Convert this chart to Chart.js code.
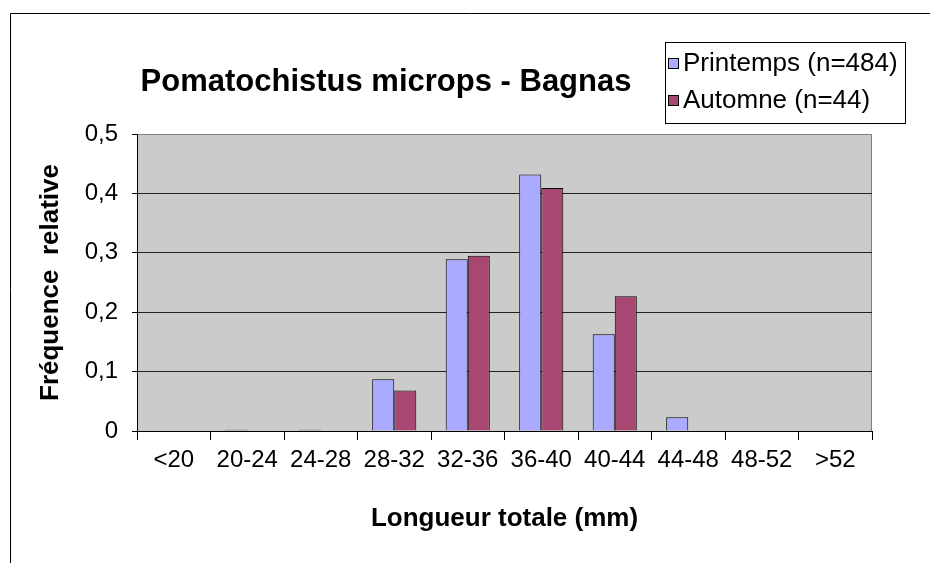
<!DOCTYPE html>
<html>
<head>
<meta charset="utf-8">
<title>Pomatochistus microps - Bagnas</title>
<script src="https://cdn.jsdelivr.net/npm/chart.js@4.4.0/dist/chart.umd.min.js"></script>
<style>
  html, body { margin: 0; padding: 0; background: #fff; }
  canvas { display: block; }
</style>
</head>
<body>
<canvas id="chart" width="930" height="563"></canvas>
<script>
    // classes de longueur totale (mm)
    const categories = ['<20', '20-24', '24-28', '28-32', '32-36', '36-40', '40-44', '44-48', '48-52', '>52'];
    // frequences relatives
    const printemps = [0, 0.002, 0.002, 0.087, 0.289, 0.432, 0.163, 0.023, 0, 0];
    const automne = [0, 0, 0, 0.068, 0.295, 0.409, 0.227, 0, 0, 0];
    const yTicks = [0, 0.1, 0.2, 0.3, 0.4, 0.5];

    const chart_title = 'Pomatochistus microps - Bagnas';
    const font_family = '"Liberation Sans", Arial, sans-serif';

    Chart.defaults.font.family = font_family;
    Chart.defaults.color = '#000';

    const excel_plugin = {
        id: 'excel_look',
        beforeDraw(chart) {
            const ctx = chart.ctx;
            const a = chart.chartArea;
            ctx.save();
            ctx.fillStyle = '#fff';
            ctx.fillRect(0, 0, chart.width, chart.height);
            // cadre du graphique (coupe a droite et en bas)
            ctx.strokeStyle = '#000';
            ctx.lineWidth = 1;
            ctx.beginPath();
            ctx.moveTo(10.5, chart.height);
            ctx.lineTo(10.5, 13.5);
            ctx.lineTo(chart.width, 13.5);
            ctx.stroke();
            // zone de traçage grise
            ctx.fillStyle = '#cbcbcb';
            ctx.fillRect(a.left, a.top, a.right - a.left, a.bottom - a.top);
            ctx.strokeStyle = '#808080';
            ctx.beginPath();
            ctx.moveTo(a.left, a.top + 0.5);
            ctx.lineTo(a.right - 0.5, a.top + 0.5);
            ctx.lineTo(a.right - 0.5, a.bottom);
            ctx.stroke();
            ctx.restore();
        },
        afterDraw(chart) {
            const ctx = chart.ctx;
            ctx.save();
            // titre
            ctx.fillStyle = '#000';
            ctx.font = 'bold 31px ' + font_family;
            ctx.textAlign = 'center';
            ctx.textBaseline = 'alphabetic';
            ctx.fillText(chart_title, 386, 91);

            // legende
            ctx.fillStyle = '#fff';
            ctx.fillRect(665, 42, 240, 81);
            ctx.strokeStyle = '#000';
            ctx.lineWidth = 1;
            ctx.strokeRect(665.5, 42.5, 240, 81);
            ctx.font = '26px ' + font_family;
            ctx.textAlign = 'left';
            const rows = [71, 108];
            chart.data.datasets.forEach(function(ds, i) {
                const base = rows[i];
                ctx.fillStyle = ds.backgroundColor;
                ctx.fillRect(668, base - 13, 10, 10);
                ctx.strokeRect(668.5, base - 12.5, 10, 10);
                ctx.fillStyle = '#000';
                ctx.fillText(ds.label, 683, base);
            });
            ctx.restore();
        }
    };

    const graphChart = new Chart(document.getElementById('chart'), {
        type: 'bar',
        data: {
            labels: categories,
            datasets: [
                { label: 'Printemps (n=484)', data: printemps, backgroundColor: '#aaaaff', borderColor: '#000', borderWidth: 1 },
                { label: 'Automne (n=44)', data: automne, backgroundColor: '#a94773', borderColor: '#000', borderWidth: 1 }
            ]
        },
        options: {
            responsive: false,
            animation: false,
            devicePixelRatio: 1,
            layout: { padding: { top: 134, right: 58, left: 0, bottom: 0 } },
            datasets: { bar: { categoryPercentage: 0.6, barPercentage: 1.0 } },
            plugins: {
                legend: { display: false },
                title: { display: false },
                tooltip: { enabled: false }
            },
            scales: {
                x: {
                    grid: { drawOnChartArea: false, drawTicks: true, tickLength: 9, tickColor: '#000', offset: true },
                    border: { color: '#000', width: 1 },
                    ticks: { font: { size: 24 }, padding: 6, maxRotation: 0, autoSkip: false },
                    title: {
                        display: true,
                        text: 'Longueur totale (mm)',
                        font: { size: 26, weight: 'bold' },
                        padding: { top: 0, bottom: 29 }
                    },
                    afterFit: function(scale) { scale.height = 132; }
                },
                y: {
                    min: 0,
                    max: 0.5,
                    afterBuildTicks: function(scale) {
                        scale.ticks = yTicks.map(function(v) { return { value: v }; });
                    },
                    grid: {
                        color: function(c) { return c.tick && c.tick.value === 0.5 ? '#808080' : '#222'; },
                        tickColor: '#000',
                        tickLength: 5
                    },
                    border: { color: '#000', width: 1 },
                    ticks: {
                        font: { size: 24 },
                        padding: 14,
                        callback: function(v) { return v === 0 ? '0' : v.toFixed(1).replace('.', ','); }
                    },
                    title: {
                        display: true,
                        text: 'Fréquence  relative',
                        font: { size: 26, weight: 'bold' },
                        padding: { top: 35, bottom: 0 }
                    },
                    afterFit: function(scale) { scale.width = 137; }
                }
            }
        },
        plugins: [excel_plugin]
    });
</script>
</body>
</html>
